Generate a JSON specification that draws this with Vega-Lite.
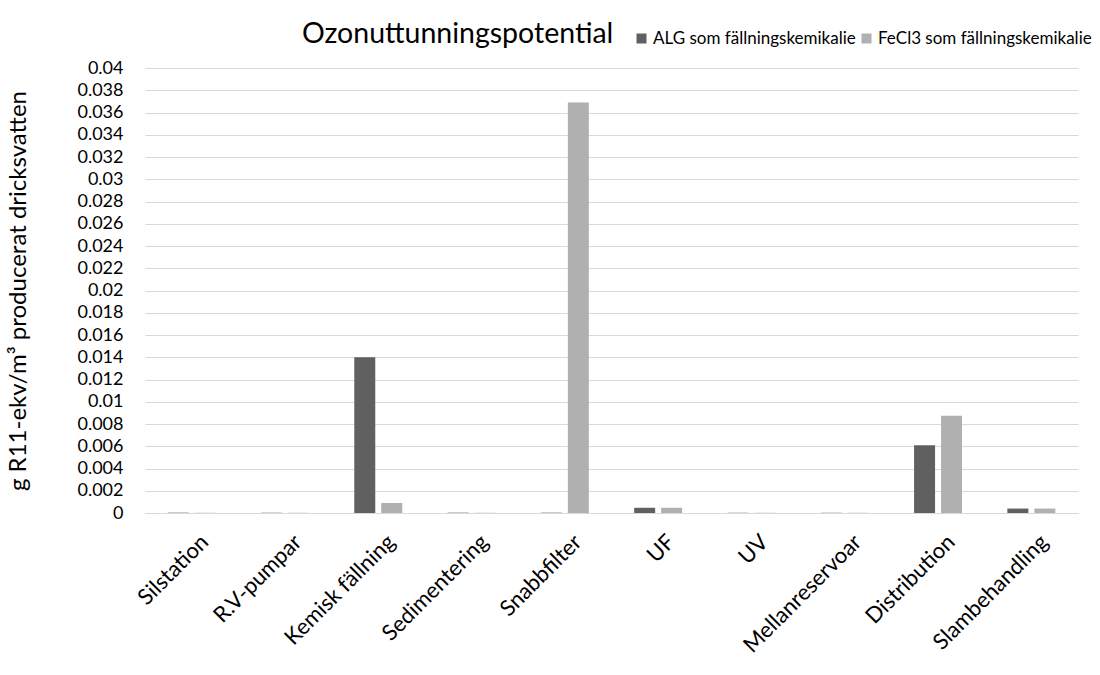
{
  "$schema": "https://vega.github.io/schema/vega-lite/v6.json",
  "autosize": {"type": "none"},
  "width": 933,
  "height": 445,
  "padding": {"left": 145, "top": 68, "right": 22, "bottom": 162},
  "background": "white",
  "title": {
    "text": "Ozonuttunningspotential",
    "anchor": "start",
    "dx": 295,
    "dy": 32,
    "offset": -9,
    "baseline": "alphabetic",
    "fontSize": 28.5,
    "font": "Lato",
    "fontWeight": "normal",
    "color": "#000000"
  },
  "data": {
    "values": [
      {"kategori": "Silstation", "serie": "ALG som fällningskemikalie", "varde": 0.00003},
      {"kategori": "Silstation", "serie": "FeCl3 som fällningskemikalie", "varde": 0.00002},
      {"kategori": "R.V-pumpar", "serie": "ALG som fällningskemikalie", "varde": 0.00002},
      {"kategori": "R.V-pumpar", "serie": "FeCl3 som fällningskemikalie", "varde": 0.00002},
      {"kategori": "Kemisk fällning", "serie": "ALG som fällningskemikalie", "varde": 0.014},
      {"kategori": "Kemisk fällning", "serie": "FeCl3 som fällningskemikalie", "varde": 0.0009},
      {"kategori": "Sedimentering", "serie": "ALG som fällningskemikalie", "varde": 0.00003},
      {"kategori": "Sedimentering", "serie": "FeCl3 som fällningskemikalie", "varde": 0.00002},
      {"kategori": "Snabbfilter", "serie": "ALG som fällningskemikalie", "varde": 0.00003},
      {"kategori": "Snabbfilter", "serie": "FeCl3 som fällningskemikalie", "varde": 0.0369},
      {"kategori": "UF", "serie": "ALG som fällningskemikalie", "varde": 0.00047},
      {"kategori": "UF", "serie": "FeCl3 som fällningskemikalie", "varde": 0.00047},
      {"kategori": "UV", "serie": "ALG som fällningskemikalie", "varde": 0.00002},
      {"kategori": "UV", "serie": "FeCl3 som fällningskemikalie", "varde": 0.00002},
      {"kategori": "Mellanreservoar", "serie": "ALG som fällningskemikalie", "varde": 0.00002},
      {"kategori": "Mellanreservoar", "serie": "FeCl3 som fällningskemikalie", "varde": 0.00002},
      {"kategori": "Distribution", "serie": "ALG som fällningskemikalie", "varde": 0.0061},
      {"kategori": "Distribution", "serie": "FeCl3 som fällningskemikalie", "varde": 0.00875},
      {"kategori": "Slambehandling", "serie": "ALG som fällningskemikalie", "varde": 0.0004},
      {"kategori": "Slambehandling", "serie": "FeCl3 som fällningskemikalie", "varde": 0.0004}
    ]
  },
  "mark": {"type": "bar"},
  "encoding": {
    "x": {
      "field": "kategori",
      "type": "nominal",
      "sort": null,
      "scale": {"paddingInner": 0.486, "paddingOuter": 0.243},
      "axis": {
        "title": null,
        "labelAngle": -45,
        "labelAlign": "right",
        "labelBaseline": "top",
        "labelFontSize": 22,
        "labelFont": "Lato",
        "labelColor": "#000000",
        "ticks": false,
        "domainColor": "#d9d9d9",
        "domainWidth": 1,
        "labelPadding": 18,
        "labelOffset": 6,
        "labelLimit": 0
      }
    },
    "xOffset": {"field": "serie", "type": "nominal", "scale": {"paddingInner": 0.222}},
    "y": {
      "field": "varde",
      "type": "quantitative",
      "scale": {"domain": [0, 0.04], "nice": false},
      "axis": {
        "title": "g R11-ekv/m³ producerat dricksvatten",
        "titleFontSize": 24,
        "titleFont": "Lato",
        "titleFontWeight": "normal",
        "titleColor": "#000000",
        "titlePadding": 46,
        "values": [0, 0.002, 0.004, 0.006, 0.008, 0.01, 0.012, 0.014, 0.016, 0.018, 0.02, 0.022, 0.024, 0.026, 0.028, 0.03, 0.032, 0.034, 0.036, 0.038, 0.04],
        "labelExpr": "datum.value == 0 ? '0' : format(datum.value, '.3~f')",
        "labelFontSize": 18,
        "labelFont": "Lato",
        "labelColor": "#000000",
        "ticks": false,
        "domain": false,
        "gridColor": "#d9d9d9",
        "gridWidth": 1,
        "labelPadding": 22
      }
    },
    "color": {
      "field": "serie",
      "type": "nominal",
      "scale": {
        "domain": ["ALG som fällningskemikalie", "FeCl3 som fällningskemikalie"],
        "range": ["#606060", "#b0b0b0"]
      },
      "legend": {
        "title": null,
        "orient": "none",
        "direction": "horizontal",
        "legendX": 488,
        "legendY": -38,
        "gridAlign": "none",
        "symbolType": "square",
        "symbolSize": 100,
        "symbolStrokeWidth": 0,
        "labelFontSize": 17,
        "labelFont": "Lato",
        "labelColor": "#000000",
        "labelLimit": 0,
        "columnPadding": 2,
        "labelOffset": 3
      }
    }
  },
  "config": {"view": {"stroke": null}}
}
